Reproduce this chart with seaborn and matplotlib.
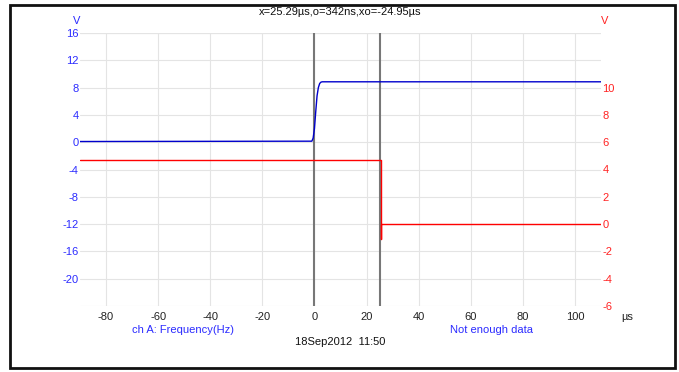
import numpy as np
import pandas as pd
import matplotlib
matplotlib.use('Agg')
import matplotlib.pyplot as plt
from matplotlib.patches import Rectangle
import seaborn as sns

# Channel A (left axis, blue) - step edge near t=0
blue_t = [-90, -1.0, -0.5, 0.0, 0.5, 1.0, 1.5, 2.0, 2.5, 3.0, 110]
blue_v = [0.1, 0.15, 0.6, 2.0, 4.5, 6.8, 8.0, 8.6, 8.8, 8.85, 8.85]

# Channel B (right axis, red) - falling edge near t=25.6
red_t = [-90, 25.6, 25.6, 25.6, 26.5, 110]
red_v = [4.7, 4.7, -1.1, 0.0, 0.0, 0.0]

cursors = [0.0, 25.29]
x_ticks = [-80, -60, -40, -20, 0, 20, 40, 60, 80, 100]
left_ticks = [-24, -20, -16, -12, -8, -4, 0, 4, 8, 12, 16]
right_ticks = [-6, -4, -2, 0, 2, 4, 6, 8, 10]

BLUE = '#2b2bff'
RED = '#ff2222'
W, H = 679, 372

sns.set_style('white')
plt.rcParams['font.family'] = ['Liberation Sans', 'DejaVu Sans']

fig = plt.figure(figsize=(W / 100, H / 100), dpi=100)
ax = fig.add_axes([80 / W, 1 - 306 / H, (601 - 80) / W, (306 - 33) / H])
ax2 = ax.twinx()

df_blue = pd.DataFrame({'t': blue_t, 'v': blue_v})
df_red = pd.DataFrame({'t': red_t, 'v': red_v})

# grid
for x in x_ticks:
    ax.axvline(x, color='#e4e4e4', lw=0.8, zorder=0)
for y in left_ticks + [16]:
    ax.axhline(y, color='#e4e4e4', lw=0.8, zorder=0)

for c in cursors:
    ax.axvline(c, color='#777777', lw=1.5, zorder=1)

sns.lineplot(data=df_blue, x='t', y='v', ax=ax, color='#0000cc', lw=1.0,
             sort=False, estimator=None, zorder=3)
sns.lineplot(data=df_red, x='t', y='v', ax=ax2, color='#ff0000', lw=1.0,
             sort=False, estimator=None, zorder=3)

ax.set_xlim(-90, 110)
ax.set_ylim(-24, 16)
ax2.set_ylim(-6, 14)

ax.set_xticks(x_ticks)
ax.set_xticklabels([str(x) for x in x_ticks], fontsize=8, color='#222222')
ax.set_yticks(left_ticks)
ax.set_yticklabels([''] + [str(v) for v in left_ticks[1:]], fontsize=8, color=BLUE)
ax2.set_yticks(right_ticks)
ax2.set_yticklabels([str(v) for v in right_ticks], fontsize=8, color=RED)

ax.tick_params(axis='x', length=0, pad=4)
ax.tick_params(axis='y', length=0, pad=1)
ax2.tick_params(axis='y', length=0, pad=1)
ax.set_xlabel('')
ax.set_ylabel('')
ax2.set_ylabel('')
for a in (ax, ax2):
    for s in a.spines.values():
        s.set_visible(False)


def ftext(x, y, s, **kw):
    fig.text(x / W, 1 - y / H, s, ha='center', va='center', fontsize=8, **kw)


ftext(340, 12, 'x=25.29\u00b5s,o=342ns,xo=-24.95\u00b5s', color='#111111')
ftext(76.5, 21.5, 'V', color=BLUE)
ftext(605, 21.5, 'V', color=RED)
ftext(627, 317, '\u00b5s', color='#222222')
ftext(183, 330, 'ch A: Frequency(Hz)', color=BLUE)
ftext(492, 330, 'Not enough data', color=BLUE)
ftext(340, 342, '18Sep2012  11:50', color='#111111')

fig.patches.append(Rectangle((9.5 / W, 1 - 368 / H), (675 - 9.5) / W, (368 - 4.5) / H,
                             transform=fig.transFigure, fill=False,
                             edgecolor='#111111', lw=2))

fig.savefig('out.png', dpi=100)
